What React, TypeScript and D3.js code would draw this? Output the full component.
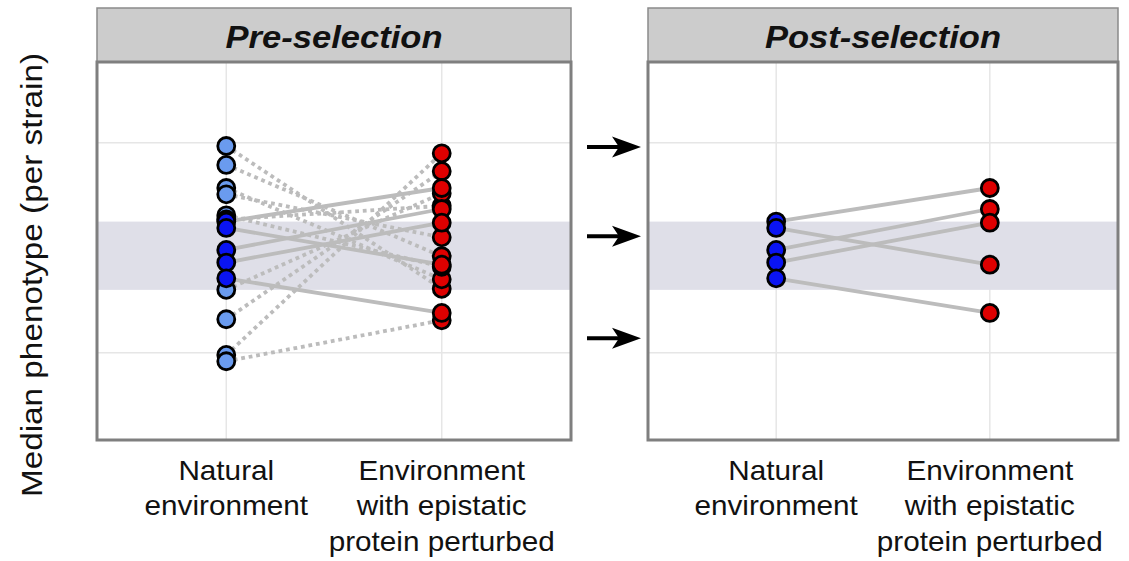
import React from 'react'
import * as d3 from 'd3'

// environments on the x axis
const conditions = ['natural', 'perturbed']
const conditionLabels = [
  ['Natural', 'environment'],
  ['Environment', 'with epistatic', 'protein perturbed'],
]

// strains that did not survive selection (shown dotted, pre-selection only)
const droppedNatural = [2.97, 2.79, 2.57, 2.51, 2.31, 2.27, 1.6, 1.32, 0.98, 0.92]
const droppedPerturbed = [1.61, 1.92, 1.7, 2.1, 1.82, 2.4, 2.52, 2.73, 2.9, 1.31]

// strains kept after selection (solid lines, both panels)
const keptNatural = [2.25, 2.19, 1.98, 1.86, 1.71]
const keptPerturbed = [2.57, 1.84, 2.37, 2.24, 1.38]

const yBreaks = [1, 2, 3]
const bandRange = [1.6, 2.25]
const arrowLevels = [2.96, 2.11, 1.14]

const panelTitles = ['Pre-selection', 'Post-selection']

const FONT = '"Liberation Sans", Arial, Helvetica, sans-serif'

const W = 1129
const H = 561
const panelTop = 62
const panelBottom = 440
const stripTop = 8
const panels = [
  { x0: 97, x1: 571 },
  { x0: 648, x1: 1118 },
]

const y = d3.scaleLinear().domain([0.17, 3.77]).range([panelBottom, panelTop])

const colors = {
  lightBlue: '#6a9bef',
  blue: '#0a14f2',
  red: '#de0000',
  line: '#bcbcbc',
  grid: '#e6e6e6',
  band: '#dfdfe8',
  border: '#7f7f7f',
  strip: '#cccccc',
}

type Pair = { a: number; b: number; kept: boolean }

const R = 8.5
const SW = 2.8

const Panel: React.FC<{ idx: number; pairs: Pair[] }> = ({ idx, pairs }) => {
  const { x0, x1 } = panels[idx]
  // ggplot-like discrete expansion: 0.6 of a step on each side
  const x = d3.scaleLinear().domain([0.4, 2.6]).range([x0, x1])
  const xs = conditions.map((_, i) => x(i + 1))
  const dropped = pairs.filter((p) => !p.kept)
  const kept = pairs.filter((p) => p.kept)
  return (
    <g>
      {/* strip */}
      <rect x={x0} y={stripTop} width={x1 - x0} height={panelTop - stripTop} fill={colors.strip} stroke="#8a8a8a" strokeWidth={1.5} />
      <g transform={`translate(${(x0 + x1) / 2},48) scale(1.08,1)`}>
        <text textAnchor="middle" fontFamily={FONT} fontSize={32} fontWeight="bold" fontStyle="italic" fill="#111">
          {panelTitles[idx]}
        </text>
      </g>
      {/* background and grid */}
      <rect x={x0} y={panelTop} width={x1 - x0} height={panelBottom - panelTop} fill="#fff" />
      {yBreaks.map((b) => (
        <line key={b} x1={x0} x2={x1} y1={y(b)} y2={y(b)} stroke={colors.grid} strokeWidth={1.5} />
      ))}
      {xs.map((v, i) => (
        <line key={i} x1={v} x2={v} y1={panelTop} y2={panelBottom} stroke={colors.grid} strokeWidth={1.5} />
      ))}
      <rect x={x0} y={y(bandRange[1])} width={x1 - x0} height={y(bandRange[0]) - y(bandRange[1])} fill={colors.band} />
      {/* connecting lines */}
      {dropped.map((p, i) => (
        <line
          key={'d' + i}
          x1={xs[0]}
          x2={xs[1]}
          y1={y(p.a)}
          y2={y(p.b)}
          stroke={colors.line}
          strokeWidth={3.8}
          strokeDasharray="3.8,3.8"
        />
      ))}
      {kept.map((p, i) => (
        <line key={'k' + i} x1={xs[0]} x2={xs[1]} y1={y(p.a)} y2={y(p.b)} stroke={colors.line} strokeWidth={3.8} />
      ))}
      {/* points */}
      {dropped.map((p, i) => (
        <circle key={'dn' + i} cx={xs[0]} cy={y(p.a)} r={R} fill={colors.lightBlue} stroke="#000" strokeWidth={SW} />
      ))}
      {kept.map((p, i) => (
        <circle key={'kn' + i} cx={xs[0]} cy={y(p.a)} r={R} fill={colors.blue} stroke="#000" strokeWidth={SW} />
      ))}
      {pairs.map((p, i) => (
        <circle key={'p' + i} cx={xs[1]} cy={y(p.b)} r={R} fill={colors.red} stroke="#000" strokeWidth={SW} />
      ))}
      {/* border */}
      <rect x={x0} y={panelTop} width={x1 - x0} height={panelBottom - panelTop} fill="none" stroke={colors.border} strokeWidth={3} />
      {/* x labels */}
      {conditionLabels.map((lines, i) => (
        <g key={i} transform={`translate(${xs[i]},0) scale(1.1,1)`}>
          <text textAnchor="middle" fontFamily={FONT} fontSize={27} fill="#111">
            {lines.map((l, j) => (
              <tspan key={j} x={0} y={480 + j * 35.5}>
                {l}
              </tspan>
            ))}
          </text>
        </g>
      ))}
    </g>
  )
}

export default function App() {
  const prePairs: Pair[] = [
    ...droppedNatural.map((a, i) => ({ a, b: droppedPerturbed[i], kept: false })),
    ...keptNatural.map((a, i) => ({ a, b: keptPerturbed[i], kept: true })),
  ]
  const postPairs: Pair[] = keptNatural.map((a, i) => ({ a, b: keptPerturbed[i], kept: true }))

  const ax0 = 587
  const aTip = 641
  return (
    <svg width={W} height={H} style={{ position: 'absolute', left: 0, top: 0, background: '#fff' }}>
      <rect width={W} height={H} fill="#fff" />
      <g transform="translate(42,275) rotate(-90) scale(1.11,1)">
        <text textAnchor="middle" fontFamily={FONT} fontSize={30} fill="#111">
          Median phenotype (per strain)
        </text>
      </g>
      <Panel idx={0} pairs={prePairs} />
      <Panel idx={1} pairs={postPairs} />
      {arrowLevels.map((v, i) => {
        const yy = y(v)
        return (
          <g key={i}>
            <line x1={ax0} x2={aTip - 20} y1={yy} y2={yy} stroke="#000" strokeWidth={4} />
            <path d={`M${aTip},${yy} L${aTip - 29},${yy - 10.5} L${aTip - 22},${yy} L${aTip - 29},${yy + 10.5} Z`} fill="#000" />
          </g>
        )
      })}
    </svg>
  )
}
